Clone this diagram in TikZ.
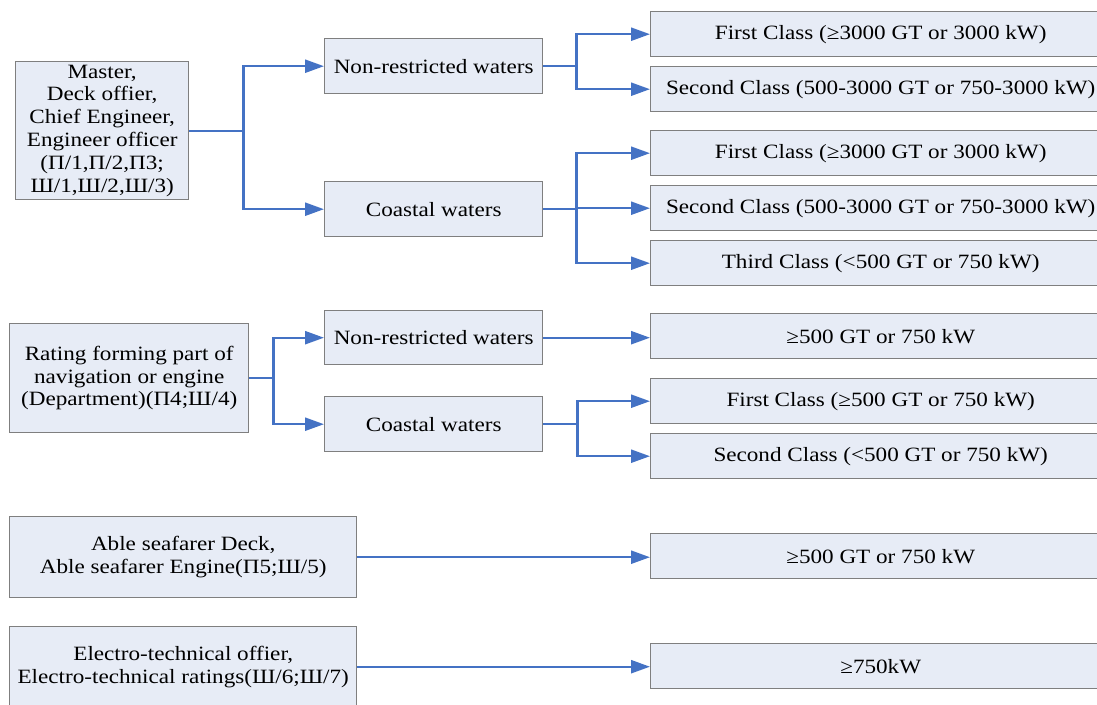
\documentclass[tikz,border=0pt]{standalone}
\usepackage{fontspec}
\setmainfont[FakeStretch=1.14]{Liberation Serif}
\usetikzlibrary{arrows.meta}
\definecolor{boxfill}{HTML}{E7ECF6}
\definecolor{boxline}{HTML}{7F7F7F}
\definecolor{conncol}{HTML}{4472C4}
\begin{document}
\begin{tikzpicture}[x=1pt,y=-1pt,
  box/.style={draw=boxline, fill=boxfill, line width=1.4pt, inner sep=0pt, align=center,
    anchor=north west, font=\fontsize{20.3}{22.8}\selectfont},
  conn/.style={draw=conncol, line width=2.4pt},
  arr/.style={conn, -{Triangle[length=19pt,width=13pt]}}]
\useasboundingbox (0,0) rectangle (1097,704);
% group 1
\node[box, minimum width=173pt, minimum height=138pt] (A) at (15,61)
  {Master,\\Deck offier,\\Chief Engineer,\\Engineer officer\\(П/1,П/2,П3;\\Ш/1,Ш/2,Ш/3)};
\node[box, minimum width=218pt, minimum height=55pt] (NR1) at (324,38) {Non-restricted waters};
\node[box, minimum width=218pt, minimum height=55pt] (CW1) at (324,181) {Coastal waters};
\node[box, minimum width=460pt, minimum height=45pt] (R1) at (650,11) {First Class (≥3000 GT or 3000 kW)};
\node[box, minimum width=460pt, minimum height=45pt] (R2) at (650,66) {Second Class (500-3000 GT or 750-3000 kW)};
\node[box, minimum width=460pt, minimum height=45pt] (R3) at (650,130) {First Class (≥3000 GT or 3000 kW)};
\node[box, minimum width=460pt, minimum height=45pt] (R4) at (650,185) {Second Class (500-3000 GT or 750-3000 kW)};
\node[box, minimum width=460pt, minimum height=45pt] (R5) at (650,240) {Third Class (<500 GT or 750 kW)};
% group 2
\node[box, minimum width=239pt, minimum height=109pt] (B) at (9,323)
  {Rating forming part of\\navigation or engine\\(Department)(П4;Ш/4)};
\node[box, minimum width=218pt, minimum height=54pt] (NR2) at (324,310) {Non-restricted waters};
\node[box, minimum width=218pt, minimum height=55pt] (CW2) at (324,396) {Coastal waters};
\node[box, minimum width=460pt, minimum height=45pt] (R6) at (650,313) {≥500 GT or 750 kW};
\node[box, minimum width=460pt, minimum height=45pt] (R7) at (650,378) {First Class (≥500 GT or 750 kW)};
\node[box, minimum width=460pt, minimum height=45pt] (R8) at (650,433) {Second Class (<500 GT or 750 kW)};
% group 3
\node[box, minimum width=347pt, minimum height=81pt] (C) at (9,516)
  {Able seafarer Deck,\\Able seafarer Engine(П5;Ш/5)};
\node[box, minimum width=460pt, minimum height=45pt] (R9) at (650,533) {≥500 GT or 750 kW};
% group 4
\node[box, minimum width=347pt, minimum height=80pt] (D) at (9,626)
  {Electro-technical offier,\\Electro-technical ratings(Ш/6;Ш/7)};
\node[box, minimum width=460pt, minimum height=45pt] (R10) at (650,643) {≥750kW};
% connectors
\coordinate (j1) at ([xshift=54pt]A.east);
\draw[conn] (A.east) -- (j1);
\draw[arr] (j1) |- (NR1.west);
\draw[arr] (j1) |- (CW1.west);
\coordinate (j2) at ([xshift=33pt]NR1.east);
\draw[conn] (NR1.east) -- (j2);
\draw[arr] (j2) |- (R1.west);
\draw[arr] (j2) |- (R2.west);
\coordinate (j3) at ([xshift=33pt]CW1.east);
\draw[conn] (CW1.east) -- (j3);
\draw[arr] (j3) |- (R3.west);
\draw[arr] (j3) |- (R4.west);
\draw[arr] (j3) |- (R5.west);
\coordinate (j4) at ([xshift=24pt]B.east);
\draw[conn] (B.east) -- (j4);
\draw[arr] (j4) |- (NR2.west);
\draw[arr] (j4) |- (CW2.west);
\draw[arr] (NR2.east) -- (NR2.east -| R6.west);
\coordinate (j5) at ([xshift=34pt]CW2.east);
\draw[conn] (CW2.east) -- (j5);
\draw[arr] (j5) |- (R7.west);
\draw[arr] (j5) |- (R8.west);
\draw[arr] (C.east) -- (C.east -| R9.west);
\draw[arr] (D.east) -- (D.east -| R10.west);
\end{tikzpicture}
\end{document}
